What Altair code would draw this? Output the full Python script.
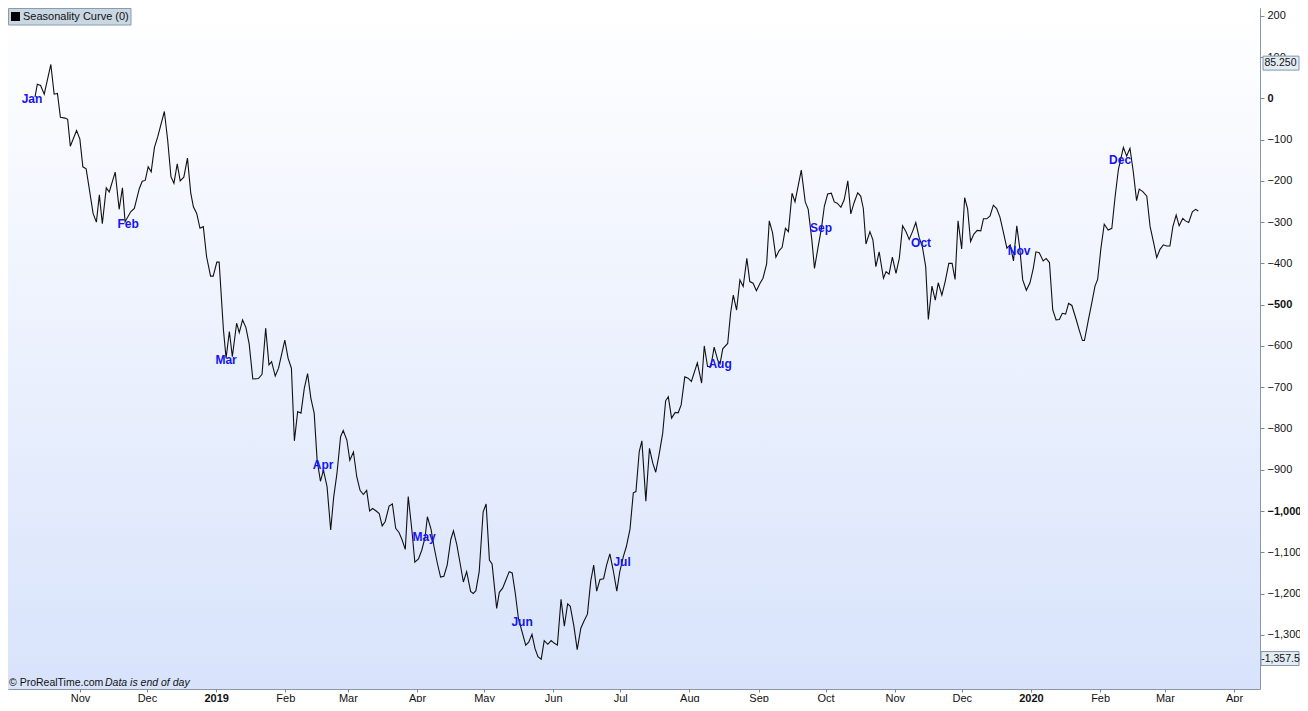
import altair as alt
import pandas as pd

# ---- seasonality curve (day of the seasonal year, cumulative value) ----
day = [0.0, 0.7, 1.7, 2.8, 4.8, 5.8, 6.8, 7.7, 9.1, 9.9, 10.7, 12.6, 13.6, 14.5, 15.5, 16.5,
       17.6, 18.6, 19.5, 20.4, 21.6, 22.5, 24.3, 25.5, 26.5, 27.3, 29.0, 30.1, 31.6, 32.5,
       33.4, 34.3, 35.2, 36.2, 37.2, 39.2, 40.2, 41.2, 42.1, 43.1, 44.0, 45.1, 46.2, 47.2,
       48.0, 49.0, 50.0, 51.0, 52.0, 53.2, 54.0, 55.1, 55.8,
       57.1, 57.9, 58.9, 59.8, 61.1, 61.9, 62.9, 63.9, 64.9, 66.0, 67.7, 68.8, 69.9, 70.9,
       71.7, 72.8, 73.8, 75.7, 76.7, 77.7, 78.6, 79.6, 80.6, 81.6, 82.6, 83.6, 84.6, 85.5,
       86.5, 87.4, 88.5, 89.6, 90.5, 91.5, 92.6, 93.4, 94.5, 95.4, 96.5, 97.5, 98.5, 99.5,
       100.5, 101.4, 102.3, 103.4, 104.3, 105.2, 106.1, 107.3, 108.3, 109.3, 110.3, 111.2,
       112.2, 113.1, 114.2, 115.1, 116.2, 117.2, 118.2, 118.9, 120.0, 120.9, 121.9, 122.9,
       123.9, 124.9, 126.0, 126.8, 127.8, 128.8, 129.8, 130.8, 132.0, 132.8, 133.6, 134.6,
       135.8, 136.7, 137.7, 138.5, 139.9, 140.7, 141.7, 142.7, 143.7, 144.6, 145.5, 146.5,
       148.7, 149.6, 150.6, 151.5, 152.4, 153.4, 154.3, 155.4, 156.4, 157.3, 158.3, 159.4,
       160.4, 161.4, 162.2, 163.3, 164.3, 165.4, 166.4, 167.4, 168.4, 169.3, 170.2, 171.2,
       172.3, 173.2, 174.2, 175.2, 176.3, 177.2, 178.3, 179.2, 180.3, 181.3, 182.1, 183.1,
       183.9, 185.1, 186.2, 187.2, 188.1, 189.1, 190.2, 191.1, 191.9, 192.9, 194.0, 194.9,
       195.8, 196.9, 197.9, 198.9, 200.7, 202.0, 202.8, 203.8, 204.8, 205.8, 206.9, 207.6,
       208.4, 209.9, 210.8, 211.6, 212.6, 213.6, 214.6, 215.7, 216.6, 217.6, 218.6, 219.7,
       220.6, 221.7, 222.5, 223.5, 224.5, 225.5, 226.4, 227.4, 228.3, 229.4, 230.3, 232.2,
       233.4, 234.3, 235.4, 236.2, 237.3, 238.3, 239.2, 240.2, 241.3, 242.2, 243.1, 244.2,
       245.2, 246.3, 247.2, 248.2, 249.3, 250.2, 251.0, 251.8, 253.0, 253.9, 254.8, 255.8,
       257.1, 257.9, 258.8, 259.8, 260.9, 261.9, 262.9, 263.9, 264.9, 265.9, 266.9, 267.9,
       268.9, 269.9, 270.7, 271.8, 272.8, 273.7, 274.8, 275.8, 276.9, 277.9, 278.8, 279.7,
       280.8, 281.7, 282.6, 283.5, 284.5, 285.5, 286.6, 287.4, 288.4, 289.4, 290.4, 291.4,
       292.4, 293.4, 294.5, 295.5, 296.5, 297.5, 298.4, 299.3, 300.4, 301.5, 302.5, 303.3,
       304.3, 305.5, 306.4, 307.4, 308.4, 309.4, 310.4, 311.3, 312.3, 313.2, 314.2, 315.5,
       316.4, 317.4, 318.0, 319.2, 320.2, 321.2, 322.0, 323.0, 324.0, 325.2, 326.3, 327.3,
       328.3, 329.8, 330.8, 331.8, 332.8, 333.8, 334.6, 335.7, 336.9, 337.9, 338.9, 339.9,
       340.9, 341.9, 342.9, 343.9, 344.8, 345.8, 346.7, 347.8, 348.6, 349.6, 350.7, 351.7,
       352.5]
value = [3, 34, 31, 10, 82, 10, 12, -46, -48, -51, -116, -78, -99, -166, -171, -222,
         -279, -300, -234, -304, -217, -227, -179, -269, -217, -299, -275, -267, -219, -201,
         -199, -166, -178, -119, -93, -32, -101, -190, -206, -159, -200, -191, -145, -230,
         -263, -279, -315, -311, -384, -431, -431, -397, -397,
         -561, -630, -565, -626, -545, -568, -537, -555, -595, -680, -679, -669, -557, -646,
         -638, -673, -654, -586, -630, -654, -830, -759, -763, -703, -667, -727, -763, -878,
         -928, -901, -941, -1046, -967, -909, -820, -805, -828, -877, -857, -917, -950, -960,
         -950, -1000, -994, -1000, -1006, -1036, -1026, -988, -983, -1042, -1052, -1069,
         -1093, -965, -1046, -1124, -1116, -1095, -1064, -1014, -1044, -1086, -1126, -1160,
         -1158, -1131, -1069, -1048, -1081, -1126, -1172, -1147, -1195, -1200, -1193, -1147,
         -1002, -983, -1119, -1128, -1236, -1197, -1187, -1167, -1147, -1150, -1197, -1261,
         -1325, -1318, -1299, -1333, -1353, -1359, -1314, -1323, -1314, -1320, -1325, -1214,
         -1279, -1225, -1231, -1279, -1336, -1284, -1266, -1250, -1170, -1131, -1194, -1166,
         -1164, -1131, -1104, -1143, -1194, -1147, -1110, -1086, -1044, -956, -953, -856,
         -830, -976, -848, -884, -906, -864, -812, -733, -723, -775, -761, -762,
         -743, -675, -678, -686, -641, -690, -600, -650, -650, -603, -635, -643,
         -607, -594, -519, -477, -513, -440, -456, -388, -444, -448, -466, -448,
         -436, -401, -297, -326, -385, -369, -361, -315, -323, -230, -251, -174,
         -251, -269, -343, -412, -360, -315, -261, -232, -230, -251, -254, -264,
         -246, -200, -280, -253, -229, -237, -267, -353, -323, -343, -408, -372,
         -436, -420, -426, -385, -424, -388, -309, -323, -342, -323, -301, -337,
         -360, -408, -536, -455, -489, -447, -477, -444, -400, -400, -439, -297,
         -365, -241, -268, -347, -329, -320, -321, -292, -292, -285, -259, -267,
         -288, -323, -363, -355, -394, -309, -363, -440, -465, -447, -412, -372,
         -374, -394, -388, -398, -513, -537, -536, -521, -523, -497, -502, -536,
         -561, -587, -587, -537, -497, -455, -439, -363, -305, -319, -315, -238,
         -172, -119, -140, -121, -178, -248, -220, -226, -237, -311, -347, -386,
         -366, -355, -358, -358, -311, -283, -309, -291, -297, -301, -275, -269,
         -273]

# ---- month markers on the curve ----
month_names = ["Jan", "Feb", "Mar", "Apr", "May", "Jun", "Jul", "Aug", "Sep", "Oct", "Nov", "Dec"]
month_day = [-0.9, 28.2, 57.9, 87.3, 117.9, 147.6, 177.9, 207.6, 238.2, 268.5, 298.2, 328.8]
month_value = [-2, -304, -634, -888, -1063, -1269, -1123, -644, -314, -351, -370, -150]

# ---- calendar axis ----
axis_dates = ["2018-11-01", "2018-12-01", "2019-01-01", "2019-02-01", "2019-03-01",
              "2019-04-01", "2019-05-01", "2019-06-01", "2019-07-01", "2019-08-01",
              "2019-09-01", "2019-10-01", "2019-11-01", "2019-12-01", "2020-01-01",
              "2020-02-01", "2020-03-01", "2020-04-01"]

# ---- extreme value boxes ----
box_labels = ["85.250", "-1,357.5"]
box_values = [85.25, -1357.5]

y_ticks = list(range(-1300, 201, 100))

W, H = 1252, 681
X_DOMAIN = [-8.18, 371.2]
Y_DOMAIN = [-1431.3, 218.8]
FONT = "Liberation Sans"

curve_df = pd.DataFrame({"day": day, "value": value})
labels_df = pd.DataFrame({"name": month_names, "day": month_day, "value": month_value})
axis_df = pd.DataFrame({"date": axis_dates})
one = pd.DataFrame({"a": [0]})

x_scale = alt.Scale(domain=X_DOMAIN, nice=False, zero=False)
y_scale = alt.Scale(domain=Y_DOMAIN, nice=False, zero=False)
t_scale = alt.Scale(
    type="utc",
    domain=[alt.DateTime(year=2018, month=9, date=29, hours=18, utc=True),
            alt.DateTime(year=2020, month=4, date=12, hours=15, utc=True)],
    nice=False,
)

bg = alt.Chart(one).mark_rect(
    fill=alt.LinearGradient(
        gradient="linear",
        stops=[alt.GradientStop(color="#ffffff", offset=0),
               alt.GradientStop(color="#d8e3fb", offset=1)],
        x1=0, x2=0, y1=0, y2=1),
).encode(x=alt.value(0), x2=alt.value(W), y=alt.value(0), y2=alt.value(H))

time_axis = alt.Chart(axis_df).mark_tick(opacity=0).encode(
    x=alt.X("date:T", scale=t_scale, title=None,
            axis=alt.Axis(
                values=[alt.DateTime(year=int(d[:4]), month=int(d[5:7]), date=1, utc=True)
                        for d in axis_dates],
                labelExpr="utcmonth(datum.value) == 0 ? utcFormat(datum.value, '%Y') : utcFormat(datum.value, '%b')",
                labelFontWeight=alt.condition("utcmonth(datum.value) == 0",
                                              alt.value("bold"), alt.value("normal")),
                labelFont=FONT, labelFontSize=11, labelColor="#111111",
                labelPadding=0, tickSize=3, tickColor="#7a8894",
                domain=False, grid=False, labelOverlap=False, labelFlush=False)),
)

line = alt.Chart(curve_df).mark_line(color="#111111", strokeWidth=1.1).encode(
    x=alt.X("day:Q", scale=x_scale, axis=None),
    y=alt.Y("value:Q", scale=y_scale, title=None,
            axis=alt.Axis(orient="right", values=y_ticks, format=",d",
                          labelFontWeight=alt.condition("datum.value % 500 == 0",
                                                        alt.value("bold"), alt.value("normal")),
                          labelFont=FONT, labelFontSize=11, labelColor="#111111",
                          labelPadding=3, tickSize=4, tickColor="#7a8894",
                          domain=False, grid=False)),
)

month_text = alt.Chart(labels_df).mark_text(
    color="#1414f2", fontWeight="bold", fontSize=12, font=FONT, baseline="middle"
).encode(
    x=alt.X("day:Q", scale=x_scale, axis=None),
    y=alt.Y("value:Q", scale=y_scale, title=None),
    text="name:N",
)

box_df = pd.DataFrame({"label": box_labels, "value": box_values})
box_small = alt.Chart(box_df.iloc[[0]]).mark_point(
    shape="M-1,-0.389L1,-0.389L1,0.389L-1,0.389Z", size=1296, filled=True,
    fill="#e3ebf3", stroke="#7f98b0", strokeWidth=1, opacity=1,
).encode(x=alt.value(W + 21), y=alt.Y("value:Q", scale=y_scale, title=None))
box_big = alt.Chart(box_df.iloc[[1]]).mark_point(
    shape="M-1,-0.368L1,-0.368L1,0.368L-1,0.368Z", size=1444, filled=True,
    fill="#e3ebf3", stroke="#7f98b0", strokeWidth=1, opacity=1,
).encode(x=alt.value(W + 20), y=alt.Y("value:Q", scale=y_scale, title=None))
box_text = alt.Chart(box_df).mark_text(
    align="center", baseline="middle", font=FONT, fontSize=10.5, color="#111111"
).encode(x=alt.value(W + 20.5), y=alt.Y("value:Q", scale=y_scale, title=None), text="label:N")

legend_box = alt.Chart(one).mark_rect(fill="#c9d7e3", stroke="#8a9bab", strokeWidth=1).encode(
    x=alt.value(0.5), x2=alt.value(123), y=alt.value(0.5), y2=alt.value(17))
legend_sq = alt.Chart(one).mark_rect(fill="#000000").encode(
    x=alt.value(3), x2=alt.value(12), y=alt.value(4), y2=alt.value(13))
legend_txt = alt.Chart(one).mark_text(
    align="left", baseline="middle", font=FONT, fontSize=11, color="#111111",
    text="Seasonality Curve (0)").encode(x=alt.value(15), y=alt.value(8.5))

copy1 = alt.Chart(one).mark_text(
    align="left", baseline="middle", font=FONT, fontSize=10.5, color="#111111",
    text="© ProRealTime.com").encode(x=alt.value(1), y=alt.value(H - 6))
copy2 = alt.Chart(one).mark_text(
    align="left", baseline="middle", font=FONT, fontSize=10.5, color="#111111",
    fontStyle="italic", text="Data is end of day").encode(x=alt.value(97), y=alt.value(H - 6))

chart = alt.layer(
    bg, time_axis, line, month_text, box_small, box_big, box_text,
    legend_box, legend_sq, legend_txt, copy1, copy2,
).resolve_scale(x="independent").properties(
    width=W, height=H, background="#ffffff",
    autosize=alt.AutoSizeParams(type="none"),
    padding={"left": 0, "top": 0, "right": 40, "bottom": 13},
).configure_view(stroke="#8898a6", strokeWidth=1)

chart.save("out.html", embed_options={"renderer": "svg", "actions": False})
